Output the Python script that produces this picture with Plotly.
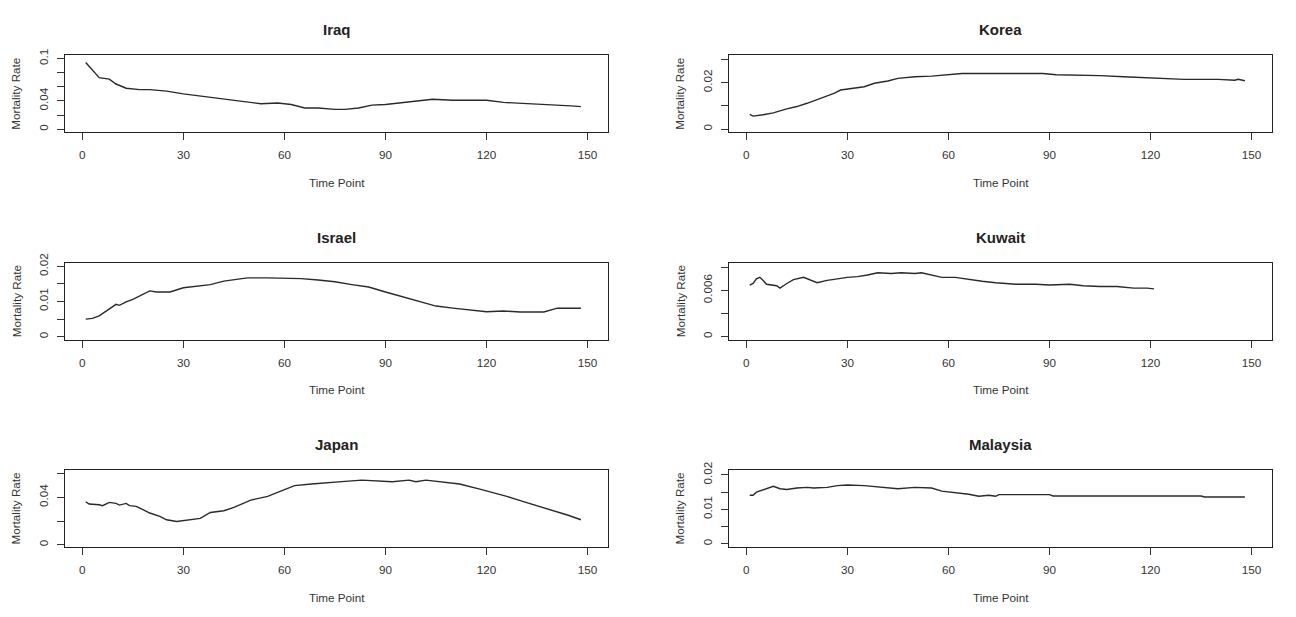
import plotly.graph_objects as go

# time points and mortality rates
iraq_t = [1, 3, 5, 8, 10, 13, 17, 20, 25, 30, 35, 40, 45, 50, 53, 58, 62, 66, 70, 75, 78,
          82, 86, 90, 95, 100, 104, 110, 120, 125, 130, 135, 140, 145, 148]
iraq_v = [0.0944, 0.083, 0.073, 0.071, 0.064, 0.058, 0.056, 0.056, 0.054, 0.050, 0.047,
          0.043, 0.041, 0.037, 0.036, 0.037, 0.035, 0.030, 0.030, 0.028, 0.028, 0.030,
          0.034, 0.035, 0.038, 0.041, 0.0425, 0.041, 0.041, 0.038, 0.037, 0.036, 0.035,
          0.033, 0.032]

korea_t = [1, 2, 5, 8, 12, 15, 18, 22, 26, 28, 32, 35, 38, 42, 45, 50, 55, 60, 64, 70, 80,
           88, 92, 100, 105, 112, 118, 125, 130, 140, 145, 146, 148]
korea_v = [0.0063, 0.0056, 0.0062, 0.0070, 0.0087, 0.0097, 0.0111, 0.0132, 0.0154, 0.0168,
           0.0176, 0.0182, 0.0197, 0.0207, 0.0218, 0.0225, 0.0228, 0.0234, 0.0239, 0.0239,
           0.0239, 0.0239, 0.0234, 0.0232, 0.0230, 0.0225, 0.0221, 0.0217, 0.0214, 0.0214,
           0.0210, 0.0214, 0.0208]

israel_t = [1, 3, 5, 8, 10, 11, 13, 15, 18, 20, 22, 26, 30, 35, 38, 42, 46, 49, 55, 60, 65,
            70, 75, 80, 85, 90, 95, 100, 105, 110, 115, 120, 125, 130, 137, 139, 141, 148]
israel_v = [0.0050, 0.0052, 0.0059, 0.0078, 0.0092, 0.0089, 0.0099, 0.0106, 0.0120, 0.0130,
            0.0127, 0.0127, 0.0139, 0.0144, 0.0148, 0.0158, 0.0162, 0.0167, 0.0167, 0.0167,
            0.0165, 0.0161, 0.0156, 0.0148, 0.0141, 0.0127, 0.0113, 0.0099, 0.0087, 0.0081,
            0.0075, 0.0071, 0.0073, 0.0070, 0.0070, 0.0076, 0.0081, 0.0081]

kuwait_t = [1, 2, 3, 4, 5, 6, 9, 10, 12, 14, 17, 19, 21, 24, 27, 30, 33, 36, 39, 43, 46, 50,
            52, 55, 58, 62, 66, 70, 74, 80, 86, 90, 96, 100, 105, 110, 115, 119, 121]
kuwait_v = [0.0067, 0.0069, 0.0075, 0.0077, 0.0073, 0.0068, 0.0066, 0.0063, 0.0069, 0.0074,
            0.0077, 0.0074, 0.0070, 0.0073, 0.0075, 0.0077, 0.0078, 0.0080, 0.0083, 0.0082,
            0.0083, 0.0082, 0.0083, 0.0080, 0.0077, 0.0077, 0.0074, 0.0072, 0.0070, 0.0068,
            0.0068, 0.0067, 0.0068, 0.0066, 0.0065, 0.0065, 0.0063, 0.0063, 0.0062]

japan_t = [1, 2, 5, 6, 8, 10, 11, 13, 14, 16, 18, 20, 23, 25, 28, 32, 35, 38, 42, 45, 50, 55,
           60, 63, 68, 73, 78, 83, 88, 92, 97, 99, 102, 107, 112, 118, 122, 126, 130, 135,
           140, 144, 148]
japan_v = [0.0363, 0.0344, 0.0338, 0.0330, 0.0358, 0.0349, 0.0335, 0.0349, 0.0330, 0.0324,
           0.0296, 0.0268, 0.0239, 0.0211, 0.0197, 0.0211, 0.0223, 0.0273, 0.0287, 0.0315,
           0.0377, 0.0408, 0.0465, 0.0499, 0.0513, 0.0527, 0.0535, 0.0546, 0.0541, 0.0532,
           0.0546, 0.0532, 0.0546, 0.0532, 0.0513, 0.0470, 0.0442, 0.0408, 0.0372, 0.0330,
           0.0282, 0.0251, 0.0211]

malaysia_t = [1, 2, 3, 5, 7, 8, 10, 12, 15, 18, 20, 24, 27, 30, 35, 40, 45, 50, 55, 58, 62,
              66, 69, 72, 74, 75, 90, 91, 135, 136, 148]
malaysia_v = [0.0141, 0.0141, 0.0150, 0.0157, 0.0162, 0.0167, 0.0160, 0.0158, 0.0162, 0.0164,
              0.0162, 0.0164, 0.0169, 0.0171, 0.0169, 0.0164, 0.0160, 0.0164, 0.0162, 0.0153,
              0.0148, 0.0144, 0.0138, 0.0141, 0.0138, 0.0143, 0.0143, 0.0139, 0.0139, 0.0136,
              0.0136]

x_ticks = [0, 30, 60, 90, 120, 150]

panels = [
    ("Iraq", iraq_t, iraq_v, [-0.0042, 0.1046],
     [0, 0.02, 0.04, 0.06, 0.08, 0.1], ["0", "", "0.04", "", "", "0.1"]),
    ("Korea", korea_t, korea_v, [-0.0013, 0.0317],
     [0, 0.01, 0.02, 0.03], ["0", "", "0.02", ""]),
    ("Israel", israel_t, israel_v, [-0.0008, 0.021],
     [0, 0.005, 0.01, 0.015, 0.02], ["0", "", "0.01", "", "0.02"]),
    ("Kuwait", kuwait_t, kuwait_v, [-0.0004, 0.0096],
     [0, 0.003, 0.006, 0.009], ["0", "", "0.006", ""]),
    ("Japan", japan_t, japan_v, [-0.0018, 0.063],
     [0, 0.02, 0.04, 0.06], ["0", "", "0.04", ""]),
    ("Malaysia", malaysia_t, malaysia_v, [-0.0009, 0.0214],
     [0, 0.005, 0.01, 0.015, 0.02], ["0", "", "0.01", "", "0.02"]),
]

W, H = 1296, 617
OFF = 8  # the page body adds an 8px margin, pull everything back by that much
col_px = [(65 - OFF, 608 - OFF), (729 - OFF, 1272 - OFF)]
row_px = [(46 - OFF, 124 - OFF), (256.8 - OFF, 334.8 - OFF), (467.6 - OFF, 545.6 - OFF)]

font = "Liberation Sans, Arial, sans-serif"
fig = go.Figure()
annotations = []

for i, (name, t, v, yr, yt, ytxt) in enumerate(panels):
    r, c = divmod(i, 2)
    x0, x1 = col_px[c]
    top, bot = row_px[r]
    n = "" if i == 0 else str(i + 1)
    fig.add_trace(go.Scatter(x=t, y=v, mode="lines", xaxis="x" + n, yaxis="y" + n,
                             line=dict(color="#2a2a2a", width=1.4), showlegend=False))
    axis_common = dict(showgrid=False, zeroline=False, showline=True, mirror=True,
                       linecolor="#222222", linewidth=1.2, ticks="outside", ticklen=7,
                       tickwidth=1.2, tickcolor="#333333",
                       tickfont=dict(family=font, size=11.7, color="#333333"))
    fig.update_layout({
        "xaxis" + n: dict(axis_common, domain=[x0 / W, x1 / W], range=[-5.15, 156.05],
                          tickvals=x_ticks, anchor="y" + n, ticklabelstandoff=5),
        "yaxis" + n: dict(axis_common, domain=[1 - bot / H, 1 - top / H], range=yr,
                          tickvals=yt, ticktext=ytxt, tickangle=-90, anchor="x" + n,
                          ticklabelstandoff=4),
    })
    cx = (x0 + x1) / 2 / W
    annotations.append(dict(text="<b>" + name + "</b>", x=cx, y=1 - (top - 26) / H,
                            xref="paper", yref="paper", xanchor="center", yanchor="middle",
                            showarrow=False, font=dict(family=font, size=15, color="#222222")))
    annotations.append(dict(text="Time Point", x=cx, y=1 - (bot + 51) / H,
                            xref="paper", yref="paper", xanchor="center", yanchor="middle",
                            showarrow=False, font=dict(family=font, size=11.7, color="#333333")))
    annotations.append(dict(text="Mortality Rate", x=(x0 - 49) / W, y=1 - (top + bot) / 2 / H,
                            xref="paper", yref="paper", xanchor="center", yanchor="middle",
                            showarrow=False, textangle=-90,
                            font=dict(family=font, size=11.7, color="#333333")))

fig.update_layout(width=W, height=H, margin=dict(l=0, r=0, t=0, b=0),
                  paper_bgcolor="white", plot_bgcolor="white", annotations=annotations)

fig.write_html("out.html")
